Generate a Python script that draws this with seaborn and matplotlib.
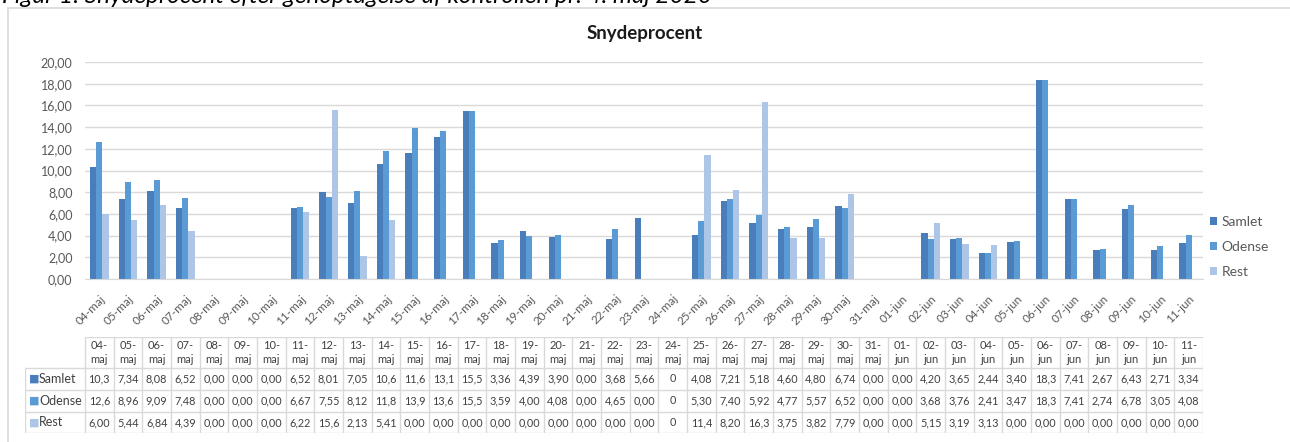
import pandas as pd
import numpy as np
import seaborn as sns
import matplotlib.pyplot as plt
from matplotlib.lines import Line2D

dates = ["04-maj", "05-maj", "06-maj", "07-maj", "08-maj", "09-maj", "10-maj", "11-maj",
         "12-maj", "13-maj", "14-maj", "15-maj", "16-maj", "17-maj", "18-maj", "19-maj",
         "20-maj", "21-maj", "22-maj", "23-maj", "24-maj", "25-maj", "26-maj", "27-maj",
         "28-maj", "29-maj", "30-maj", "31-maj", "01-jun", "02-jun", "03-jun", "04-jun",
         "05-jun", "06-jun", "07-jun", "08-jun", "09-jun", "10-jun", "11-jun"]

samlet = [10.3, 7.34, 8.08, 6.52, 0, 0, 0, 6.52, 8.01, 7.05, 10.6, 11.6, 13.1, 15.5, 3.36, 4.39,
          3.90, 0, 3.68, 5.66, 0, 4.08, 7.21, 5.18, 4.60, 4.80, 6.74, 0, 0, 4.20, 3.65, 2.44,
          3.40, 18.3, 7.41, 2.67, 6.43, 2.71, 3.34]
odense = [12.6, 8.96, 9.09, 7.48, 0, 0, 0, 6.67, 7.55, 8.12, 11.8, 13.9, 13.6, 15.5, 3.59, 4.00,
          4.08, 0, 4.65, 0, 0, 5.30, 7.40, 5.92, 4.77, 5.57, 6.52, 0, 0, 3.68, 3.76, 2.41,
          3.47, 18.3, 7.41, 2.74, 6.78, 3.05, 4.08]
rest = [6.00, 5.44, 6.84, 4.39, 0, 0, 0, 6.22, 15.6, 2.13, 5.41, 0, 0, 0, 0, 0,
        0, 0, 0, 0, 0, 11.4, 8.20, 16.3, 3.75, 3.82, 7.79, 0, 0, 5.15, 3.19, 3.13,
        0, 0, 0, 0, 0, 0, 0]

series = ["Samlet", "Odense", "Rest"]
colors = ["#4A7EBB", "#5B9BD5", "#ADC6E7"]
plain_zero = ["24-maj"]  # shown as "0" in the table

sns.set_style("white")
plt.rcParams["font.family"] = ["Lato", "DejaVu Sans"]

df = pd.DataFrame({"Dato": dates * 3,
                   "Serie": np.repeat(series, len(dates)),
                   "Værdi": samlet + odense + rest})

W, H = 1290, 442
fig = plt.figure(figsize=(W / 100, H / 100), dpi=100)

def px_box(x0, y0, x1, y1):
    return [x0 / W, 1 - y1 / H, (x1 - x0) / W, (y1 - y0) / H]

# chart frame (only top and left edges are inside the picture) and caption
fig.add_artist(Line2D([8 / W, 1], [1 - 8 / H, 1 - 8 / H], color="#D9D9D9", lw=1.2,
                      transform=fig.transFigure))
fig.add_artist(Line2D([8 / W, 8 / W], [0, 1 - 8 / H], color="#D9D9D9", lw=1.2,
                      transform=fig.transFigure))
fig.text(2 / W, 1 - 3 / H, "Figur 1: Snydeprocent efter genoptagelse af kontrollen pr. 4. maj 2020",
         fontsize=17.5, style="italic", va="baseline", ha="left", color="black")
fig.text(645 / W, 1 - 33 / H, "Snydeprocent", fontsize=13.5, fontweight="bold",
         ha="center", va="center", color="#1a1a1a")

ax_l, ax_r = 85, 1203
ax = fig.add_axes(px_box(ax_l, 62, ax_r, 279))
sns.barplot(data=df, x="Dato", y="Værdi", hue="Serie", palette=colors, width=0.65,
            saturation=1, linewidth=0, ax=ax)
ax.set_xlim(-0.5, len(dates) - 0.5)
ax.set_ylim(0, 20)
ax.set_yticks(np.arange(0, 21, 2))
ax.set_yticklabels([f"{v:.2f}".replace(".", ",") for v in np.arange(0, 21, 2)])
ax.grid(axis="y", color="#D9D9D9", linewidth=1)
ax.set_axisbelow(True)
for s in ["top", "right", "left"]:
    ax.spines[s].set_visible(False)
ax.spines["bottom"].set_color("#D9D9D9")
ax.tick_params(axis="both", length=0, labelcolor="#595959")
ax.tick_params(axis="y", pad=9, labelsize=9)
ax.tick_params(axis="x", pad=10, labelsize=8.5)
plt.setp(ax.get_xticklabels(), rotation=45, ha="right", rotation_mode="anchor")
ax.set_xlabel("")
ax.set_ylabel("")

handles, labels = ax.get_legend_handles_labels()
ax.legend(handles, labels, loc="center left", bbox_to_anchor=(1197 / W, 1 - 247 / H),
          bbox_transform=fig.transFigure, frameon=False, fontsize=10,
          handlelength=0.55, handleheight=0.55, handletextpad=0.3, labelspacing=0.95,
          labelcolor="#595959")

# data table below the chart
col_w = (ax_r - ax_l) / len(dates)
tab_l = 25
x_left = -0.5 - (ax_l - tab_l) / col_w
tax = fig.add_axes(px_box(tab_l, 337, ax_r, 433))
tax.set_xlim(x_left, len(dates) - 0.5)
tax.set_ylim(96, 0)
tax.axis("off")
line_c = "#D9D9D9"
rows_y = [31, 53, 75, 96]
tax.hlines(0, -0.5, len(dates) - 0.5, color=line_c, lw=1)
tax.hlines(rows_y, x_left, len(dates) - 0.5, color=line_c, lw=1)
tax.vlines(np.arange(len(dates) + 1) - 0.5, 0, 96, color=line_c, lw=1)
tax.vlines(x_left, 31, 96, color=line_c, lw=1)

txt_c = "#404040"
for i, d in enumerate(dates):
    day, mon = d.split("-")
    tax.text(i, 15.5, f"{day}-\n{mon}", ha="center", va="center", fontsize=8,
             color=txt_c, linespacing=1.35)

def fmt(v, d):
    if d in plain_zero:
        return "0"
    s = f"{v:.1f}" if v >= 10 else f"{v:.2f}"
    return s.replace(".", ",")

for r, (name, vals, c) in enumerate(zip(series, [samlet, odense, rest], colors)):
    yc = (rows_y[r] + rows_y[r + 1]) / 2
    tax.text(x_left + 4 / col_w, yc, "■", color=c, fontsize=8, ha="left", va="center",
             family="DejaVu Sans")
    tax.text(x_left + 14 / col_w, yc, name, color=txt_c, fontsize=9, ha="left", va="center")
    for i, d in enumerate(dates):
        tax.text(i, yc, fmt(vals[i], d), ha="center", va="center", fontsize=7.8, color=txt_c)

fig.savefig("out.png", dpi=100)
